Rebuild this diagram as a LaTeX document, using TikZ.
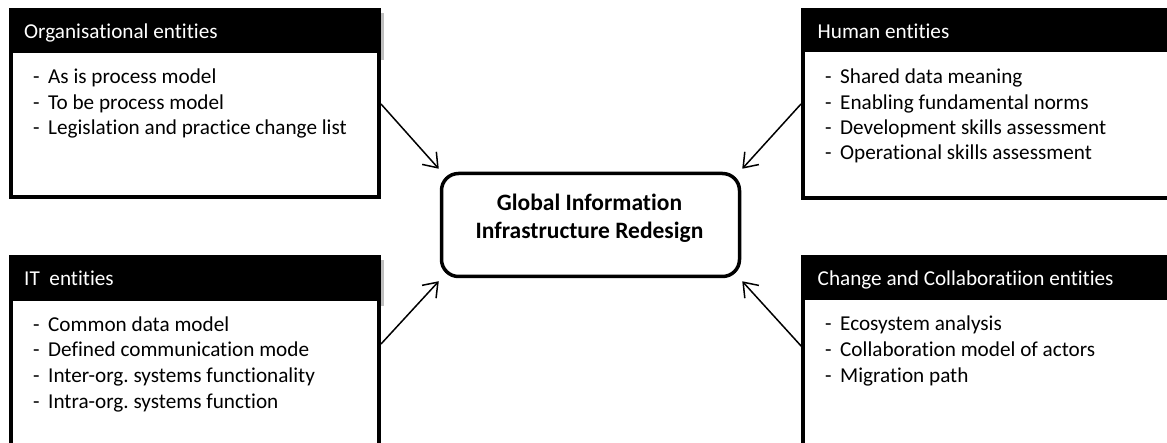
\documentclass[tikz,border=0pt]{standalone}
\usepackage{fontspec}
\setmainfont{Carlito}[Ligatures={NoCommon,NoContextual}]
\usetikzlibrary{arrows.meta,calc}
\frenchspacing
\begin{document}
\begin{tikzpicture}[x=1pt,y=-1pt,
  outerbox/.style={fill=black,inner sep=0pt,outer sep=0pt,anchor=north west},
  innerbox/.style={fill=white,inner sep=0pt,outer sep=0pt,anchor=north west},
  headtxt/.style={text=white,inner sep=0pt,anchor=base west,font=\fontsize{21.2}{25}\selectfont},
  item/.style={inner sep=0pt,anchor=base west,font=\fontsize{21.2}{25}\selectfont},
  arr/.style={line width=1.5pt,-{Straight Barb[length=13pt,width=19pt,line width=1.5pt]}},
  shadow/.style={fill=black!25}
]
\useasboundingbox (0,0) rectangle (1167,443);
\newcommand{\itm}[1]{\makebox[15pt][l]{-}#1}
% Organisational entities
\node[outerbox,minimum width=372pt,minimum height=191pt] (tl) at (9,8) {};
\node[innerbox,minimum width=364pt,minimum height=142pt] (tlin) at (13,53) {};
\fill[shadow] (381,13) rectangle (384,60);
\node[headtxt] (tlh) at (24,39) {Organisational entities};
\node[item] (tl1) at (33,84) {\itm{As is process model}};
\node[item] (tl2) at (33,109.3) {\itm{To be process model}};
\node[item] (tl3) at (33,134.7) {\itm{Legislation and practice change list}};
% Human entities
\node[outerbox,minimum width=380pt,minimum height=192pt] (tr) at (801,8) {};
\node[innerbox,minimum width=380pt,minimum height=144pt] (trin) at (805,52.5) {};
\node[headtxt] (trh) at (817.5,38.5) {Human entities};
\node[item] (tr1) at (825,84) {\itm{Shared data meaning}};
\node[item] (tr2) at (825,109.3) {\itm{Enabling fundamental norms}};
\node[item] (tr3) at (825,134.7) {\itm{Development skills assessment}};
\node[item] (tr4) at (825,160) {\itm{Operational skills assessment}};
% IT entities
\node[outerbox,minimum width=372pt,minimum height=200pt] (bl) at (9,255) {};
\node[innerbox,minimum width=364pt,minimum height=160pt] (blin) at (13,301) {};
\fill[shadow] (381,260) rectangle (384,306);
\node[headtxt] (blh) at (24,286) {IT\ \ entities};
\node[item] (bl1) at (33,331.5) {\itm{Common data model}};
\node[item] (bl2) at (33,357) {\itm{Defined communication mode}};
\node[item] (bl3) at (33,382.5) {\itm{Inter-org. systems functionality}};
\node[item] (bl4) at (33,408) {\itm{Intra-org. systems function}};
% Change and Collaboration entities
\node[outerbox,minimum width=380pt,minimum height=200pt] (br) at (801,255) {};
\node[innerbox,minimum width=380pt,minimum height=160pt] (brin) at (805,300) {};
\node[headtxt] (brh) at (817.5,285.5) {Change and Collaboratiion entities};
\node[item] (br1) at (825,331) {\itm{Ecosystem analysis}};
\node[item] (br2) at (825,356.5) {\itm{Collaboration model of actors}};
\node[item] (br3) at (825,382) {\itm{Migration path}};
% Centre
\node[draw,line width=3.5pt,rounded corners=17pt,minimum width=298pt,minimum height=103pt,inner sep=0pt] (c) at (590.5,225) {};
\node[inner sep=0pt,anchor=base,font=\bfseries\fontsize{23.5}{28}\selectfont] (c1) at (589.5,210.5) {Global Information};
\node[inner sep=0pt,anchor=base,font=\bfseries\fontsize{23.5}{28}\selectfont] (c2) at (589.5,239) {Infrastructure Redesign};
% connectors
\coordinate (s1) at ($(tl.north east)+(0,96)$);
\coordinate (s2) at ($(tr.north west)+(0,96)$);
\coordinate (s3) at ($(bl.north west)+(372,89)$);
\coordinate (s4) at ($(br.north west)+(1,92)$);
\coordinate (t1) at ($(c.north west)+(-1,-3)$);
\coordinate (t2) at ($(c.north east)+(1,-3)$);
\coordinate (t3) at ($(c.south west)+(-1,3)$);
\coordinate (t4) at ($(c.south east)+(1,3)$);
\draw[arr] (s1) -- (t1);
\draw[arr] (s2) -- (t2);
\draw[arr] (s3) -- (t3);
\draw[arr] (s4) -- (t4);
\end{tikzpicture}
\end{document}
